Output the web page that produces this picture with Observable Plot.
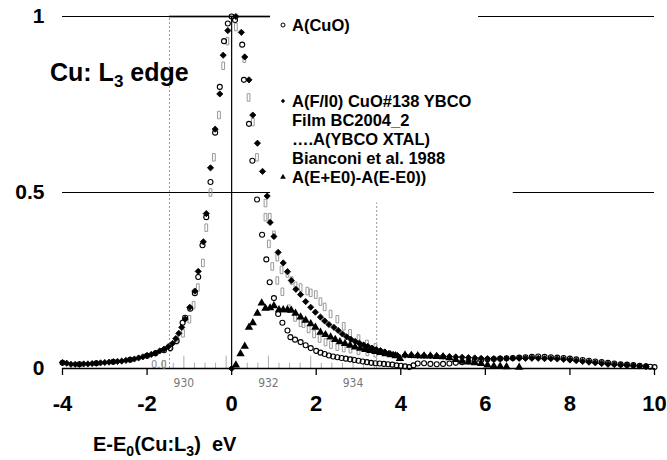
<!DOCTYPE html>
<html>
<head>
<meta charset="utf-8">
<script src="https://cdn.jsdelivr.net/npm/d3@7"></script>
<script src="https://cdn.jsdelivr.net/npm/@observablehq/plot@0.6"></script>
<style>
  html, body { margin: 0; padding: 0; background: #fff; }
</style>
</head>
<body>
<div id="chart"></div>
<script>
// ---- data ----
const xTicks = [-4, -2, 0, 2, 4, 6, 8, 10];
const yTicks = [0, 0.5, 1];
const yTickLabels = ["0", "0.5", "1"];

// A(CuO) — open circles
const cuoX = [-4.0,-3.6,-3.2,-2.8,-2.4,-2.0,-1.8,-1.6,-1.45,-1.3,-1.16,-1.1,-0.98,-0.87,-0.79,-0.69,-0.6,-0.5,-0.39,-0.28,-0.18,-0.09,0.0,0.08,0.25,0.29,0.41,0.49,0.6,0.72,0.82,0.9,1.0,1.1,1.2,1.32,1.39,1.5,1.63,1.75,1.87,2.0,2.1,2.2,2.3,2.4,2.5,2.6,2.7,2.8,2.9,3.0,3.1,3.2,3.3,3.4,3.5,3.6,3.7,3.8,3.9,4.0,4.1,4.2,4.3,4.4,4.55,4.7,4.85,5.0,5.15,5.3,5.45,5.6,5.75,5.9,6.05,6.2,6.35,6.5,6.65,6.8,6.95,7.1,7.25,7.4,7.55,7.7,7.85,8.0,8.15,8.3,8.45,8.6,8.75,8.9,9.05,9.2,9.35,9.5,9.65,9.8,9.9,10.0];
const cuoY = [0.016,0.012,0.015,0.019,0.025,0.036,0.043,0.052,0.058,0.078,0.13,0.144,0.17,0.214,0.26,0.35,0.43,0.53,0.67,0.80,0.93,0.98,1.0,0.99,0.92,0.82,0.695,0.59,0.48,0.38,0.31,0.245,0.2,0.155,0.13,0.108,0.089,0.082,0.075,0.066,0.058,0.05,0.045,0.041,0.037,0.034,0.032,0.03,0.028,0.026,0.024,0.022,0.02,0.018,0.016,0.015,0.014,0.013,0.012,0.011,0.009,0.008,0.006,0.004,0.009,0.014,0.015,0.013,0.012,0.013,0.014,0.016,0.018,0.02,0.022,0.024,0.026,0.027,0.028,0.029,0.03,0.031,0.032,0.033,0.034,0.033,0.032,0.031,0.03,0.028,0.026,0.024,0.022,0.02,0.018,0.016,0.014,0.012,0.011,0.01,0.008,0.006,0.005,0.004];

// A(F/I0) CuO#138 YBCO film — filled diamonds
const filmX = [-4.0,-3.9,-3.8,-3.7,-3.6,-3.5,-3.4,-3.3,-3.2,-3.1,-3.0,-2.9,-2.8,-2.7,-2.6,-2.5,-2.4,-2.3,-2.2,-2.1,-2.0,-1.9,-1.8,-1.7,-1.6,-1.5,-1.4,-1.32,-1.25,-1.18,-1.1,-0.99,-0.87,-0.79,-0.67,-0.6,-0.5,-0.39,-0.28,-0.2,-0.09,0.0,0.1,0.23,0.31,0.41,0.5,0.61,0.73,0.84,0.91,1.0,1.1,1.22,1.32,1.41,1.52,1.63,1.75,1.87,1.98,2.1,2.2,2.3,2.42,2.52,2.62,2.72,2.82,2.92,3.02,3.12,3.22,3.32,3.42,3.52,3.62,3.72,3.82,3.92,4.1,4.25,4.4,4.55,4.7,4.85,5.0,5.15,5.3,5.45,5.6,5.75,5.9,6.05,6.2,6.35,6.5,6.65,6.8,6.95,7.1,7.25,7.4,7.55,7.7,7.85,8.0,8.15,8.3,8.45,8.6,8.75,8.9,9.05,9.2,9.35,9.5,9.65,9.8];
const filmY = [0.017,0.015,0.012,0.012,0.012,0.013,0.013,0.014,0.015,0.016,0.017,0.018,0.019,0.020,0.021,0.023,0.025,0.027,0.030,0.033,0.037,0.040,0.044,0.050,0.055,0.062,0.071,0.085,0.10,0.117,0.14,0.174,0.22,0.276,0.36,0.44,0.57,0.68,0.78,0.89,0.96,0.0,1.0,0.955,0.885,0.82,0.72,0.64,0.56,0.49,0.415,0.375,0.33,0.30,0.275,0.25,0.225,0.21,0.19,0.174,0.16,0.146,0.135,0.125,0.117,0.108,0.098,0.09,0.083,0.077,0.072,0.067,0.063,0.058,0.054,0.051,0.047,0.043,0.040,0.037,0.038,0.038,0.037,0.037,0.036,0.036,0.035,0.034,0.033,0.032,0.031,0.030,0.029,0.028,0.028,0.028,0.028,0.029,0.029,0.029,0.029,0.029,0.028,0.028,0.027,0.026,0.024,0.022,0.020,0.018,0.016,0.014,0.012,0.011,0.010,0.009,0.008,0.007,0.006];

// A(E+E0)-A(E-E0) — filled triangles
const diffX = [0.1,0.21,0.31,0.41,0.5,0.61,0.71,0.8,0.91,1.0,1.12,1.22,1.32,1.41,1.51,1.63,1.75,1.87,1.98,2.1,2.22,2.34,2.45,2.56,2.68,2.8,2.92,3.04,3.16,3.28,3.4,3.52,3.64,3.76,3.88,3.98,4.1,4.25,4.4,4.55,4.7,4.85,5.0,5.15,5.3,5.45,5.6,5.75,5.9,6.05,6.2,6.35,6.5,6.8];
const diffY = [0.01,0.042,0.063,0.117,0.13,0.157,0.186,0.171,0.172,0.178,0.167,0.167,0.167,0.165,0.157,0.146,0.137,0.127,0.117,0.103,0.096,0.089,0.082,0.076,0.071,0.066,0.061,0.057,0.054,0.051,0.048,0.045,0.042,0.039,0.036,0.028,0.038,0.037,0.036,0.035,0.035,0.034,0.033,0.03,0.025,0.02,0.018,0.016,0.014,0.01,0.007,0.006,0.005,0.003];

// A(YBCO XTAL), Bianconi et al. 1988 — grey scanned glyphs (upper branch)
const xtalX = [-1.6,-1.45,-1.3,-1.15,-1.0,-0.9,-0.8,-0.68,-0.6,-0.5,-0.42,-0.3,-0.2,-0.1,0.1,0.3,0.4,0.5,0.6,0.8,0.9,1.0,1.08,1.18,1.32,1.42,1.51,1.63,1.79,1.87,1.99,2.1,2.2,2.34,2.5,2.65,2.8,3.0,3.2,3.4];
const xtalY = [0.012,0.06,0.08,0.10,0.14,0.18,0.23,0.30,0.40,0.50,0.60,0.72,0.86,0.93,0.97,0.88,0.77,0.70,0.60,0.47,0.43,0.38,0.316,0.28,0.27,0.25,0.235,0.23,0.22,0.215,0.21,0.19,0.175,0.155,0.14,0.12,0.10,0.085,0.07,0.06];
// grey scanned glyphs (lower branch)
const xtal2X = [0.8,0.88,0.96,1.08,1.2,1.35,1.5,1.63,1.7,1.82,1.95,2.08,2.22,2.35,2.5,2.65,2.81,3.0,3.21,3.4];
const xtal2Y = [0.43,0.354,0.29,0.25,0.218,0.17,0.145,0.13,0.127,0.112,0.098,0.085,0.075,0.068,0.062,0.058,0.055,0.05,0.047,0.043];

// horizontal reference segments
const hLines = [
  {y: 1, x1: -4, x2: 0.92}, {y: 1, x1: 5.84, x2: 10},
  {y: 0.5, x1: -4, x2: 0.92}, {y: 0.5, x1: 6.66, x2: 10}
];
// scanned photon-energy scale (grey, from the original figure)
const E0 = 931.13;
const scanLabels = [930, 932, 934];
const scanMinor = [929.75,930.0,930.25,930.5,930.75,931.0,931.25,931.5,931.75,932.0,932.25,932.5,932.75,933.0,933.25,933.5,933.75,934.0,934.25,934.5];
const scanFrame = [{x: -1.47, y1: 0, y2: 1}, {x: 3.43, y1: 0, y2: 0.47}];

const zip = (xs, ys) => xs.map((x, i) => ({x, y: ys[i]}));
const cuo = zip(cuoX, cuoY);
const film = zip(filmX, filmY);
const diff = zip(diffX, diffY);
const xtal = zip(xtalX, xtalY).concat(zip(xtal2X, xtal2Y));

const barSymbol = {
  draw(ctx, size) {
    const r = Math.sqrt(size / Math.PI);
    const w = r * 0.55, h = r * 1.5;
    ctx.moveTo(-w, -h); ctx.lineTo(w, -h); ctx.lineTo(w, h); ctx.lineTo(-w, h); ctx.closePath();
  }
};

const FONT = "'Liberation Sans', Arial, Helvetica, sans-serif";

const plot = Plot.plot({
  width: 667,
  height: 460,
  marginLeft: 62,
  marginRight: 13,
  marginTop: 16,
  marginBottom: 92,
  style: {fontFamily: FONT, background: "#fff", color: "#000"},
  x: {domain: [-4, 10]},
  y: {domain: [0, 1]},
  marks: [
    // grey scan remnants
    Plot.ruleX(scanFrame, {x: "x", y1: "y1", y2: "y2", stroke: "#999", strokeWidth: 1, strokeDasharray: "2,2"}),
    Plot.ruleY([1], {x1: -1.47, x2: 0.92, stroke: "#aaa", strokeWidth: 3}),
    Plot.ruleX(scanMinor, {x: d => d - E0, y1: 0, y2: d => (d % 1 === 0 ? 0.035 : 0.015), stroke: "#999", strokeWidth: 0.8}),
    Plot.text(scanLabels, {x: d => d - E0, frameAnchor: "bottom", dy: 18, text: d => String(d), fill: "#777", fontSize: 12, fontFamily: "'Liberation Sans Narrow', 'DejaVu Sans Condensed', sans-serif"}),
    Plot.text(["0.0"], {x: -1.72, y: 0.012, text: d => d, fill: "#888", fontSize: 11, fontFamily: "'DejaVu Sans Condensed', sans-serif"}),
    // reference lines
    Plot.ruleY(hLines, {y: "y", x1: "x1", x2: "x2", stroke: "#000", strokeWidth: 1.2}),
    Plot.ruleX([0], {y1: 0, y2: 1, stroke: "#000", strokeWidth: 1.2}),
    Plot.ruleY([0], {x1: -4, x2: 10, stroke: "#000", strokeWidth: 1.3}),
    // data
    Plot.dot(xtal, {x: "x", y: "y", symbol: barSymbol, r: 2.5, stroke: "#999", strokeWidth: 1, fill: "none"}),
    Plot.dot(diff, {x: "x", y: "y", symbol: "triangle", r: 3.1, fill: "#000", stroke: "none"}),
    Plot.dot(film, {x: "x", y: "y", symbol: "diamond2", r: 2.8, fill: "#000", stroke: "#000", strokeWidth: 0.8}),
    Plot.dot(cuo, {x: "x", y: "y", symbol: "circle", r: 2.5, fill: "none", stroke: "#000", strokeWidth: 1.1}),
    // axes
    Plot.axisX({ticks: xTicks, tickSize: 7, tickPadding: 20, tickFormat: d => String(d), fontSize: 22, fontWeight: "bold", label: null, stroke: "#000", strokeWidth: 1.3}),
    Plot.axisY({ticks: yTicks, tickSize: 0, tickPadding: 18, tickFormat: d => yTickLabels[yTicks.indexOf(d)], fontSize: 21, fontWeight: "bold", label: null})
  ]
});

document.getElementById("chart").appendChild(plot);

// ---- annotations (text with subscripts) ----
const svg = d3.select(plot);
const g = svg.append("g")
  .attr("font-family", FONT).attr("font-weight", "bold").attr("fill", "#000")
  .attr("text-anchor", "start");

// title
{
  const t = g.append("text").attr("x", 50).attr("y", 81).attr("font-size", 25);
  t.append("tspan").text("Cu: L");
  t.append("tspan").text("3").attr("font-size", 17).attr("dy", 6);
  t.append("tspan").text(" edge").attr("dy", -6);
}
// x label
{
  const t = g.append("text").attr("x", 93).attr("y", 451).attr("font-size", 20).style("white-space", "pre");
  t.append("tspan").text("E-E");
  t.append("tspan").text("0").attr("font-size", 14).attr("dy", 5);
  t.append("tspan").text("(Cu:L").attr("dy", -5);
  t.append("tspan").text("3").attr("font-size", 14).attr("dy", 5);
  t.append("tspan").text(")  eV").attr("dy", -5);
}
// legend
const legendLines = [
  {text: "A(CuO)", y: 31, sym: "circle"},
  {text: "A(F/I0) CuO#138 YBCO", y: 107, sym: "diamond"},
  {text: "Film BC2004_2", y: 126},
  {text: "\u2026.A(YBCO XTAL)", y: 145},
  {text: "Bianconi et al. 1988", y: 164},
  {text: "A(E+E0)-A(E-E0))", y: 183, sym: "triangle"}
];
legendLines.forEach(l => {
  g.append("text").attr("x", 292).attr("y", l.y).attr("font-size", 16.5).text(l.text);
  if (l.sym === "circle") {
    g.append("circle").attr("cx", 283).attr("cy", l.y - 6).attr("r", 2).attr("fill", "none").attr("stroke", "#000").attr("stroke-width", 1);
  } else if (l.sym === "diamond") {
    g.append("path").attr("transform", `translate(283,${l.y - 6})`).attr("d", d3.symbol(d3.symbolDiamond2, 12)()).attr("fill", "#000");
  } else if (l.sym === "triangle") {
    g.append("path").attr("transform", `translate(283,${l.y - 6})`).attr("d", d3.symbol(d3.symbolTriangle, 14)()).attr("fill", "#000");
  }
});
</script>
</body>
</html>
